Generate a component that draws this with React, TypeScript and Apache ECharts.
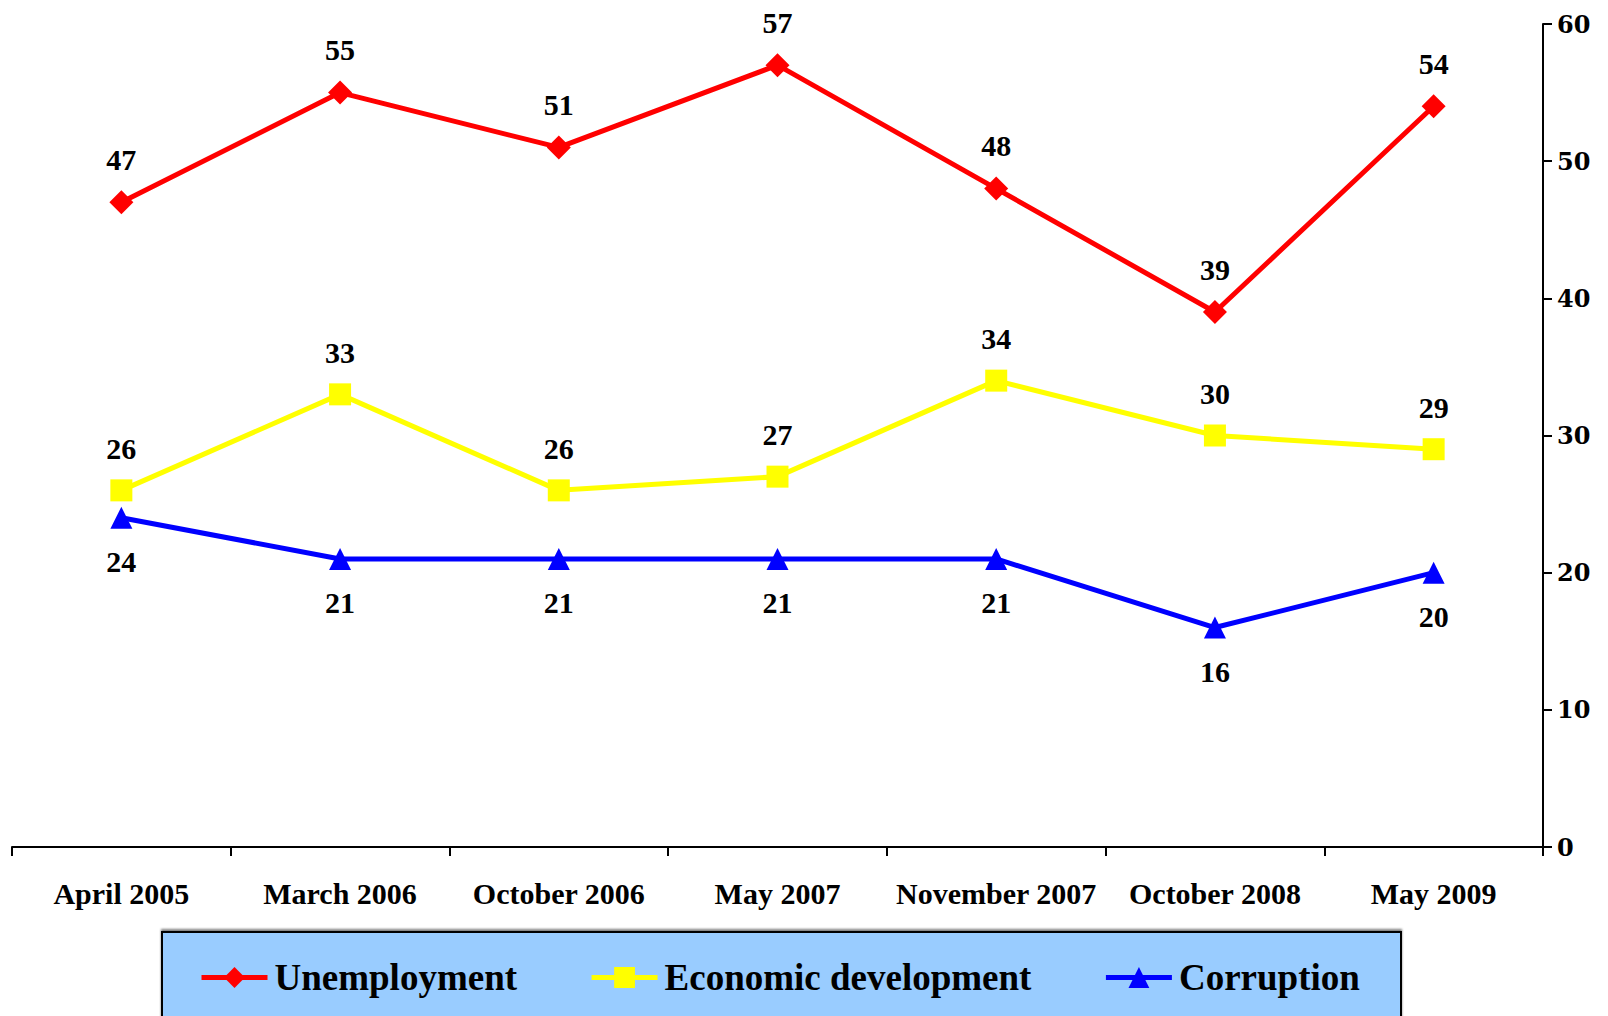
import React, { useEffect, useRef } from "react";
import * as echarts from "echarts";

const categories = ["April 2005", "March 2006", "October 2006", "May 2007", "November 2007", "October 2008", "May 2009"];
const unemployment = [47, 55, 51, 57, 48, 39, 54];
const economic = [26, 33, 26, 27, 34, 30, 29];
const corruption = [24, 21, 21, 21, 21, 16, 20];
const seriesNames = ["Unemployment", "Economic development", "Corruption"];

const serif = "'Liberation Serif', 'Times New Roman', serif";

export default function App() {
  const ref = useRef<HTMLDivElement>(null);
  useEffect(() => {
    if (!ref.current) return;
    const chart = echarts.init(ref.current, null, { renderer: "svg" });
    const labelStyle = { fontFamily: serif, fontWeight: "bold", fontSize: 30, color: "#000" };
    chart.setOption({
      animation: false,
      backgroundColor: "#fff",
      grid: { left: 12, right: 65, top: 24, bottom: 169, containLabel: false },
      graphic: [
        {
          type: "rect",
          z: -1,
          shape: { x: 162, y: 932, width: 1239, height: 100 },
          style: { fill: "#99CCFF", stroke: "#000", lineWidth: 2, shadowColor: "rgba(0,0,0,0.5)", shadowOffsetY: -2, shadowBlur: 2 },
        },
      ],
      legend: {
        left: 194,
        top: 954,
        itemWidth: 66,
        itemHeight: 26,
        itemGap: 72,
        lineStyle: { width: 5 },
        textStyle: { fontFamily: serif, fontWeight: "bold", fontSize: 37, color: "#000", padding: [0, 0, 0, 2] },
        data: seriesNames,
      },
      xAxis: {
        type: "category",
        data: categories,
        boundaryGap: true,
        axisLine: { lineStyle: { color: "#000", width: 2 } },
        axisTick: { show: true, length: 9, lineStyle: { color: "#000", width: 2 }, alignWithLabel: false },
        axisLabel: { fontFamily: serif, fontWeight: "bold", fontSize: 30, color: "#000", margin: 31, interval: 0 },
      },
      yAxis: {
        type: "value",
        position: "right",
        min: 0,
        max: 60,
        interval: 10,
        splitLine: { show: false },
        axisLine: { show: true, lineStyle: { color: "#000", width: 2 } },
        axisTick: { show: true, length: 9, lineStyle: { color: "#000", width: 2 } },
        axisLabel: { fontFamily: "'DejaVu Serif', serif", fontWeight: "bold", fontSize: 24, color: "#000", margin: 14 },
      },
      series: [
        {
          name: seriesNames[0],
          type: "line",
          data: unemployment,
          symbol: "diamond",
          symbolSize: 24,
          itemStyle: { color: "#FF0000" },
          lineStyle: { color: "#FF0000", width: 5 },
          label: { show: true, position: "top", distance: 16, ...labelStyle },
        },
        {
          name: seriesNames[1],
          type: "line",
          data: economic,
          symbol: "rect",
          symbolSize: 22,
          itemStyle: { color: "#FFFF00" },
          lineStyle: { color: "#FFFF00", width: 5 },
          label: { show: true, position: "top", distance: 16, ...labelStyle },
        },
        {
          name: seriesNames[2],
          type: "line",
          data: corruption,
          symbol: "triangle",
          symbolSize: 22,
          itemStyle: { color: "#0000FF" },
          lineStyle: { color: "#0000FF", width: 5 },
          label: { show: true, position: "bottom", distance: 18, ...labelStyle },
        },
      ],
    });
    return () => chart.dispose();
  }, []);
  return <div ref={ref} style={{ position: "fixed", left: 0, top: 0, width: 1608, height: 1016 }} />;
}
